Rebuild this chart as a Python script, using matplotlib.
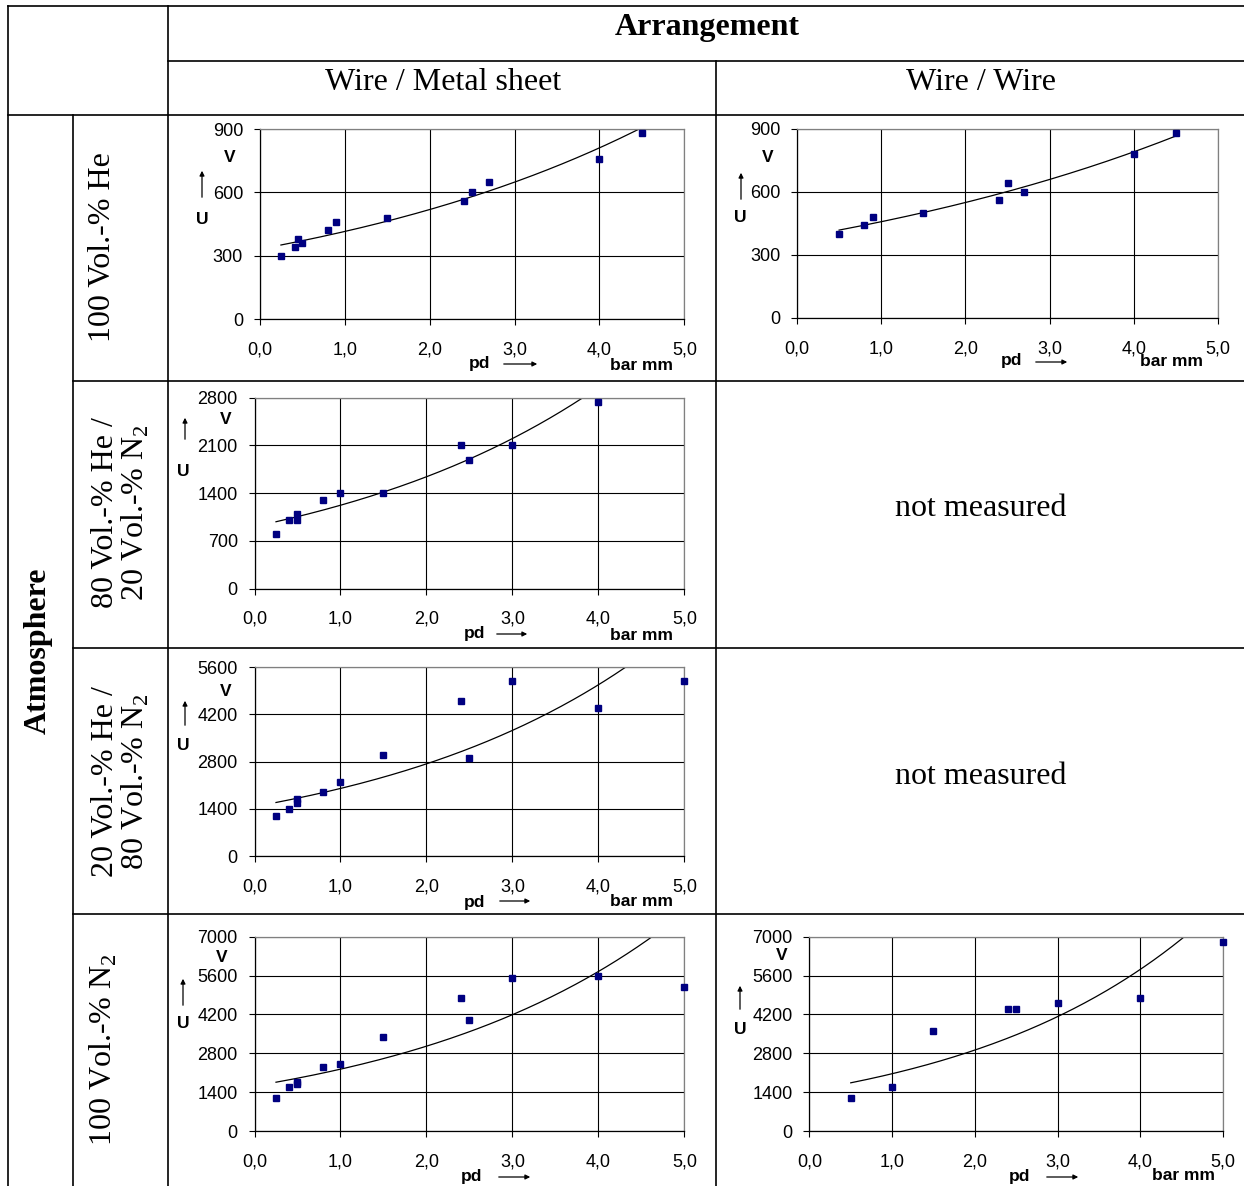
import numpy as np
import matplotlib
matplotlib.use("Agg")
import matplotlib.pyplot as plt
from matplotlib.lines import Line2D

# --- data (pd in bar mm, U in V) ---
he_ms_pd = [0.25, 0.42, 0.45, 0.5, 0.8, 0.9, 1.5, 2.4, 2.5, 2.7, 4.0, 4.5]
he_ms_u = [300, 340, 380, 360, 420, 460, 480, 560, 600, 650, 760, 880]

he_ww_pd = [0.5, 0.8, 0.9, 1.5, 2.4, 2.5, 2.7, 4.0, 4.5]
he_ww_u = [400, 440, 480, 500, 560, 640, 600, 780, 880]

he80_ms_pd = [0.25, 0.4, 0.5, 0.5, 0.8, 1.0, 1.5, 2.4, 2.5, 3.0, 4.0]
he80_ms_u = [800, 1000, 1000, 1100, 1300, 1400, 1400, 2100, 1890, 2100, 2740]

he20_ms_pd = [0.25, 0.4, 0.5, 0.5, 0.8, 1.0, 1.5, 2.4, 2.5, 3.0, 4.0, 5.0]
he20_ms_u = [1200, 1400, 1580, 1700, 1900, 2200, 3000, 4600, 2900, 5200, 4400, 5200]

n2_ms_pd = [0.25, 0.4, 0.5, 0.5, 0.8, 1.0, 1.5, 2.4, 2.5, 3.0, 4.0, 5.0]
n2_ms_u = [1200, 1600, 1700, 1780, 2300, 2400, 3400, 4800, 4000, 5500, 5600, 5200]

n2_ww_pd = [0.5, 1.0, 1.5, 2.4, 2.5, 3.0, 4.0, 5.0]
n2_ww_u = [1200, 1600, 3600, 4400, 4400, 4600, 4800, 6800]

x_ticks = [0, 1, 2, 3, 4, 5]
x_tick_labels = ["0,0", "1,0", "2,0", "3,0", "4,0", "5,0"]

W, H = 1244, 1186
fig = plt.figure(figsize=(W / 100, H / 100), dpi=100)

SERIF = "Liberation Serif"
SANS = "Liberation Sans"
FS = 23

plt.rcParams["mathtext.fontset"] = "custom"
plt.rcParams["mathtext.rm"] = SERIF


def fx(x):
    return x / W


def fy(y):
    return 1 - y / H


def hline(y, x0, x1):
    fig.add_artist(Line2D([fx(x0), fx(x1)], [fy(y), fy(y)], color="black", lw=1.2))


def vline(x, y0, y1):
    fig.add_artist(Line2D([fx(x), fx(x)], [fy(y0), fy(y1)], color="black", lw=1.2))


# table grid
hline(6, 8, W)
hline(61, 168, W)
hline(115, 8, W)
for y in [381, 648, 914]:
    hline(y, 73, W)
vline(8, 6, H)
vline(168, 6, H)
vline(73, 115, H)
vline(716, 61, H)

# headers
fig.text(fx(707), fy(28), "Arrangement", family=SERIF, weight="bold", fontsize=FS,
         ha="center", va="center")
fig.text(fx(443), fy(82), "Wire / Metal sheet", family=SERIF, fontsize=FS, ha="center", va="center")
fig.text(fx(981), fy(82), "Wire / Wire", family=SERIF, fontsize=FS, ha="center", va="center")
fig.text(fx(38), fy(651), "Atmosphere", family=SERIF, weight="bold", fontsize=FS,
         ha="center", va="center", rotation=90)
fig.text(fx(103), fy(247), "100 Vol.-% He", family=SERIF, fontsize=FS, ha="center", va="center",
         rotation=90)
fig.text(fx(121), fy(513), "80 Vol.-% He /\n20 Vol.-% N$_2$", family=SERIF, fontsize=FS,
         ha="center", va="center", rotation=90, linespacing=0.95)
fig.text(fx(121), fy(782), "20 Vol.-% He /\n80 Vol.-% N$_2$", family=SERIF, fontsize=FS,
         ha="center", va="center", rotation=90, linespacing=0.95)
fig.text(fx(103), fy(1050), "100 Vol.-% N$_2$", family=SERIF, fontsize=FS, ha="center",
         va="center", rotation=90)
for yc in [509, 776]:
    fig.text(fx(981), fy(yc), "not measured", family=SERIF, fontsize=FS, ha="center", va="center")


def arrow(x0, y0, x1, y1):
    fig.add_artist(matplotlib.patches.FancyArrowPatch(
        (fx(x0), fy(y0)), (fx(x1), fy(y1)), transform=fig.transFigure,
        arrowstyle="-|>", mutation_scale=7, lw=0.9, color="black"))


def panel(box, pd, u, ymax, ystep, labels):
    left, right, top, bottom = box
    ax = fig.add_axes([fx(left), fy(bottom), fx(right - left), (bottom - top) / H])
    ax.set_xlim(0, 5)
    ax.set_ylim(0, ymax)
    ax.set_xticks(x_ticks)
    ax.set_xticklabels(x_tick_labels)
    ax.set_yticks(np.arange(0, ymax + 1, ystep))
    ax.grid(True, color="black", lw=0.8)
    ax.set_axisbelow(True)
    ax.tick_params(direction="out", length=4, width=0.8, labelsize=13)
    ax.tick_params(axis="y", pad=8)
    ax.tick_params(axis="x", pad=12)
    for t in ax.get_xticklabels() + ax.get_yticklabels():
        t.set_family(SANS)
    for s in ax.spines.values():
        s.set_linewidth(0.9)
    ax.spines["top"].set_color("#808080")
    ax.spines["right"].set_color("#808080")

    # exponential trend line (least squares on ln U)
    pd_a = np.array(pd)
    b, ln_a = np.polyfit(pd_a, np.log(u), 1)
    xs = np.linspace(pd_a.min(), pd_a.max(), 200)
    ax.plot(xs, np.exp(ln_a) * np.exp(b * xs), color="black", lw=0.9)
    ax.plot(pd, u, "s", color="#000080", markersize=5, clip_on=False, zorder=5)

    # axis annotations
    v, ua, u_pos, pd_pos, pa, bm = labels
    fig.text(fx(v[0]), fy(v[1]), "V", family=SANS, weight="bold", fontsize=12.5,
             ha="center", va="center")
    arrow(*ua)
    fig.text(fx(u_pos[0]), fy(u_pos[1]), "U", family=SANS, weight="bold", fontsize=12.5,
             ha="center", va="center")
    fig.text(fx(pd_pos[0]), fy(pd_pos[1]), "pd", family=SANS, weight="bold", fontsize=12.5,
             ha="center", va="center")
    arrow(*pa)
    if bm is not None:
        fig.text(fx(bm[0]), fy(bm[1]), "bar mm", family=SANS, weight="bold", fontsize=12.5,
                 ha="center", va="center")
    return ax


panel((259.7, 684.4, 129, 319), he_ms_pd, he_ms_u, 900, 300,
      ((230, 157), (202, 200, 202, 168), (202, 219), (480, 363), (501, 364, 540, 364), (641, 365)))
panel((797, 1218, 128.5, 318), he_ww_pd, he_ww_u, 900, 300,
      ((768, 157), (741, 202, 741, 170), (740, 218), (1012, 361), (1033, 362, 1070, 362),
       (1171, 362)))
panel((254.5, 684.4, 397.7, 588.7), he80_ms_pd, he80_ms_u, 2800, 700,
      ((226, 419), (185, 442, 185, 415), (183, 471), (474, 634), (494, 634, 530, 634), (641, 635)))
panel((254.5, 684.4, 667, 856.3), he20_ms_pd, he20_ms_u, 5600, 1400,
      ((226, 692), (185, 728, 185, 698), (183, 745), (474, 902), (497, 901, 533, 901), (641, 902)))
panel((254.5, 684.4, 936.7, 1131), n2_ms_pd, n2_ms_u, 7000, 1400,
      ((222, 957), (183, 1008, 183, 976), (183, 1024), (472, 1177), (496, 1177, 533, 1177), None))
panel((809.4, 1222.9, 936.7, 1131), n2_ww_pd, n2_ww_u, 7000, 1400,
      ((782, 956), (740, 1012, 740, 983), (740, 1030), (1020, 1177), (1044, 1177, 1081, 1177),
       (1184, 1176)))

fig.savefig("out.png", dpi=100)
